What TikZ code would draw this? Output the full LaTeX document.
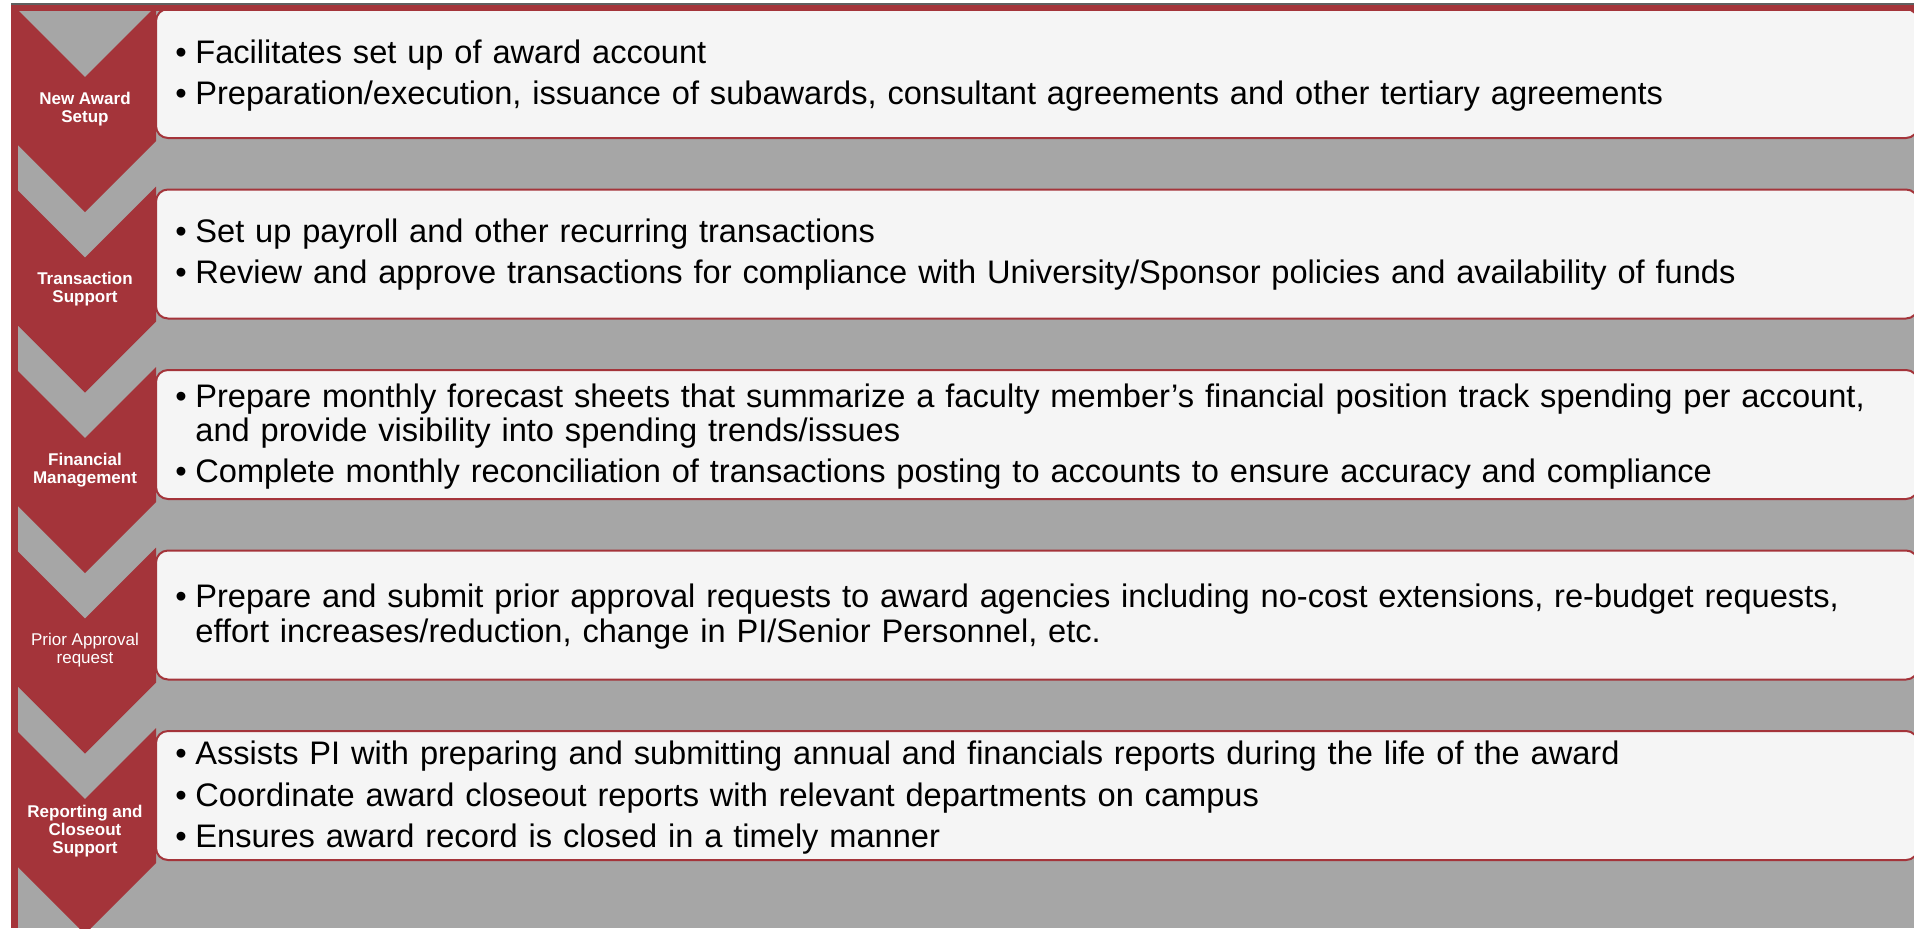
\documentclass[tikz,border=0pt]{standalone}
\usepackage{fontspec}
\setmainfont{Liberation Sans}
\definecolor{cred}{HTML}{A4343A}
\definecolor{cgray}{HTML}{A6A6A6}
\definecolor{cbox}{HTML}{F5F5F5}
\definecolor{cline}{HTML}{5F5F5F}
\newcommand{\bitem}[1]{\noindent\hangindent=10pt\hangafter=1\makebox[10pt][l]{\textbullet}\strut #1\strut\par}
\begin{document}
\begin{tikzpicture}[x=0.5pt,y=-0.5pt,
  chev/.style={fill=cred},
  tbox/.style={draw=cred, line width=1pt, fill=cbox, rounded corners=6pt},
  txt/.style={anchor=north west, inner sep=0pt, text width=900pt,
    font=\fontsize{16.3}{17.1}\selectfont,
    execute at begin node={\setlength{\parskip}{3.5pt}\raggedright}},
  lab/.style={text=white, font=\fontsize{8.5}{9}\selectfont\bfseries, align=center, inner sep=0pt},
  labn/.style={text=white, font=\fontsize{8.5}{9}\selectfont, align=center, inner sep=0pt}]
\useasboundingbox (0,0) rectangle (1914,928);
\fill[white] (0,0) rectangle (1914,928);
\fill[cgray] (11,4) rectangle (1914,928);
\foreach \i in {0,...,4} {
  \pgfmathsetmacro\tt{6+180.5*\i}
  \pgfmathsetmacro\bb{141+180.5*\i}
  \fill[chev] (14,\tt) -- (85,\tt+71) -- (156,\tt) -- (156,\bb) -- (85,\bb+71) -- (14,\bb) -- cycle;
  \draw[tbox] (156,\tt+3) rectangle (1918,\bb-3);
}
\fill[cred] (11,4) rectangle (1914,11);
\fill[cred] (11,4) rectangle (18,928);
\draw[cline, line width=0.6pt] (11,4) -- (1914,4);

\node[lab] (l1) at (85,109) {New Award\\Setup};
\node[lab] (l2) at (85,289.5) {Transaction\\Support};
\node[lab] (l3) at (85,470) {Financial\\Management};
\node[labn] (l4) at (85,650.5) {Prior Approval\\request};
\node[lab] (l5) at (85,831) {Reporting and\\Closeout\\Support};

\node[txt] (t1) at (175,39) {\bitem{Facilitates set up of award account}\bitem{Preparation/execution, issuance of subawards, consultant agreements and other tertiary agreements}};
\node[txt] (t2) at (175,218) {\bitem{Set up payroll and other recurring transactions}\bitem{Review and approve transactions for compliance with University/Sponsor policies and availability of funds}};
\node[txt] (t3) at (175,383) {\bitem{Prepare monthly forecast sheets that summarize a faculty member’s financial position track spending per account,\newline and provide visibility into spending trends/issues}\bitem{Complete monthly reconciliation of transactions posting to accounts to ensure accuracy and compliance}};
\node[txt] (t4) at (175,583.5) {\bitem{Prepare and submit prior approval requests to award agencies including no-cost extensions, re-budget requests,\newline effort increases/reduction, change in PI/Senior Personnel, etc.}};
\node[txt] (t5) at (175,740.5) {\bitem{Assists PI with preparing and submitting annual and financials reports during the life of the award}\bitem{Coordinate award closeout reports with relevant departments on campus}\bitem{Ensures award record is closed in a timely manner}};
\end{tikzpicture}
\end{document}
